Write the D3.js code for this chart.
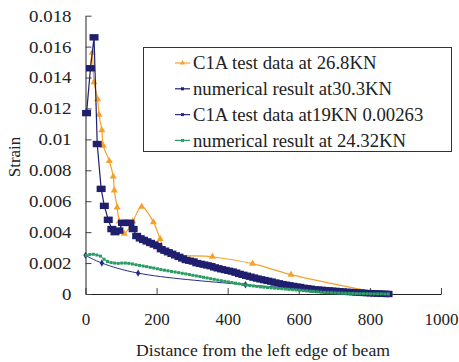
<!DOCTYPE html>
<html>
<head>
<meta charset="utf-8"/>
<script src="https://d3js.org/d3.v7.min.js"></script>
<style>
  body { margin: 0; background: white; }
  text { font-family: "Liberation Serif", "Times New Roman", serif; fill: #222; }
</style>
</head>
<body>
<svg id="chart" width="459" height="362"></svg>
<script>
// series names (legend order)
var seriesNames = ["C1A test data at 26.8KN", "numerical result at30.3KN",
                   "C1A test data at19KN 0.00263", "numerical result at 24.32KN"];

// C1A test data at 26.8KN
var test268X = [13, 19, 24, 34, 38, 46, 50, 67, 78, 81, 89, 95, 109, 133, 158, 191, 210, 228, 357, 470, 578, 840];
var test268Y = [0.0146, 0.0156, 0.0137, 0.0126, 0.0116, 0.0106, 0.0096, 0.0086, 0.0076, 0.0067, 0.0056, 0.0047, 0.0039,
                0.0047, 0.00565, 0.00465, 0.00356, 0.0027, 0.00241, 0.00196, 0.00125, 0];

// numerical result at30.3KN
var num303X = [3, 14, 24, 33, 44, 53, 64, 74, 83, 94, 104, 114, 125, 134, 144, 154, 163, 173, 183, 193,
               203, 213, 223, 233, 243, 253, 263, 273, 283, 293, 303, 313, 323, 333, 343, 353, 363, 373, 383, 393,
               403, 413, 423, 433, 443, 453, 463, 473, 483, 493, 503, 513, 523, 533, 543, 553, 563, 573, 583, 593,
               603, 613, 623, 633, 643, 653, 663, 673, 683, 693, 703, 713, 723, 733, 743, 753, 763, 773, 783, 793,
               803, 813, 823, 833, 843, 851];
var num303Y = [0.0117, 0.0146, 0.0166, 0.0097, 0.0068, 0.0057, 0.0048, 0.0042, 0.0040, 0.0041, 0.0046, 0.0046, 0.0046, 0.0042,
               0.00375, 0.0036, 0.0035, 0.0034, 0.0033, 0.0032, 0.0031, 0.0029, 0.0028, 0.0027, 0.0026, 0.0025, 0.0024,
               0.0023, 0.0022, 0.00215, 0.0021, 0.0020, 0.00195, 0.0019, 0.00185, 0.0018, 0.00172, 0.00166, 0.0016,
               0.00155, 0.0015, 0.00145, 0.00138, 0.0013, 0.00124, 0.00118, 0.00112, 0.00106, 0.001, 0.00095, 0.0009,
               0.00085, 0.0008, 0.00074, 0.00069, 0.00064, 0.0006, 0.00056, 0.00052, 0.00048, 0.00045, 0.0004, 0.00037,
               0.00034, 0.0003, 0.00028, 0.00027, 0.00025, 0.00023, 0.00021, 0.0002, 0.00018, 0.00016, 0.00014, 0.00013,
               0.00012, 0.0001, 0.00009, 0.00007, 0.00006, 0.00005, 0.00004, 0.00003, 0.00002, 0.00001, 0];

// C1A test data at19KN
var test19X = [0, 46, 148, 450, 850];
var test19Y = [0.0025, 0.0020, 0.00135, 0.0006, 0];

// numerical result at 24.32KN
var num2432X = [2, 12, 22, 32, 42, 52, 62, 72, 82, 92, 102, 112, 122, 132, 142, 152, 162, 172, 182, 192,
                202, 212, 222, 232, 242, 252, 262, 272, 282, 292, 302, 312, 322, 332, 342, 352, 362, 372, 382, 392,
                402, 412, 422, 432, 442, 452, 462, 472, 482, 492, 502, 512, 522, 532, 542, 552, 562, 572, 582, 592,
                602, 612, 622, 632, 642, 652, 662, 672, 682, 692, 702, 712, 722, 732, 742, 752, 762, 772, 782, 792,
                802, 812, 822, 832, 842, 852];
var num2432Y = [0.0025, 0.00255, 0.00257, 0.00252, 0.00245, 0.00225, 0.0021, 0.00203, 0.002, 0.00198, 0.002, 0.002,
                0.00198, 0.00194, 0.00189, 0.00185, 0.00181, 0.00177, 0.00172, 0.00168, 0.00163, 0.00158, 0.00154,
                0.0015, 0.00146, 0.00142, 0.00138, 0.00134, 0.0013, 0.00126, 0.00121, 0.00117, 0.00113, 0.00108,
                0.00104, 0.00099, 0.00095, 0.0009, 0.00086, 0.00082, 0.00078, 0.00074, 0.0007, 0.00066, 0.00062,
                0.00058, 0.00055, 0.00052, 0.00049, 0.00046, 0.00044, 0.00042, 0.0004, 0.00038, 0.00036, 0.00034,
                0.00032, 0.0003, 0.00028, 0.00026, 0.00024, 0.00022, 0.0002, 0.00018, 0.00016, 0.00014, 0.00012,
                0.0001, 0.00009, 0.00008, 0.00007, 0.00006, 0.00005, 0.00004, 0.00004, 0.00003, 0.00003, 0.00002,
                0.00002, 0.00002, 0.00001, 0.00001, 0.00001, 0.00001, 0, 0];

var xTicks = [0, 200, 400, 600, 800, 1000];
var yTicks = [0, 0.002, 0.004, 0.006, 0.008, 0.01, 0.012, 0.014, 0.016, 0.018];

var orange = "#f7a12c", navy = "#1f1f6e", navyThin = "#2b2b85", green = "#2a9c64";
var serif = '"Liberation Serif", "Times New Roman", serif';

var svg = d3.select("#chart");
var x = d3.scaleLinear([0, 1000], [85.5, 441]);
var y = d3.scaleLinear([0, 0.018], [294, 15.7]);

function pts(xs, ys) { return xs.map((v, i) => [v, ys[i]]); }

// axes
var gx = svg.append("g").attr("transform", "translate(0,294)")
    .call(d3.axisBottom(x).tickValues(xTicks).tickSizeInner(-6).tickSizeOuter(0).tickPadding(19)
          .tickFormat(d3.format("d")));
gx.selectAll(".tick text").style("font-size", "17px");
var gy = svg.append("g").attr("transform", "translate(85.5,0)")
    .call(d3.axisLeft(y).tickValues(yTicks).tickSizeInner(-6).tickSizeOuter(0).tickPadding(14)
          .tickFormat(d => d === 0 ? "0" : String(+d.toFixed(3))));
gy.selectAll(".tick text").style("font-size", "17px")
   .attr("transform", "scale(1.11,1)")
   .attr("x", function() { var v = +d3.select(this).attr("x") || 0; return v / 1.11; });
svg.selectAll(".domain").attr("stroke", "#222");
svg.selectAll(".tick line").attr("stroke", "#444");
svg.selectAll(".tick text").style("font-family", serif).attr("fill", "#222");

svg.append("text").attr("transform", "translate(263,356) scale(1.04,1)").attr("text-anchor", "middle")
   .style("font-size", "17px").style("font-family", serif).text("Distance from the left edge of beam");
svg.append("text").attr("transform", "translate(20,157) rotate(-90)").attr("text-anchor", "middle")
   .style("font-size", "17px").style("font-family", serif).text("Strain");

var line = d3.line().x(d => x(d[0])).y(d => y(d[1]));
var smooth = d3.line().x(d => x(d[0])).y(d => y(d[1])).curve(d3.curveCatmullRom.alpha(0.5));

var tri = d3.symbol().type(d3.symbolTriangle).size(22);
var diamond = d3.symbol().type(d3.symbolDiamond).size(16);

// orange test data
var oData = pts(test268X, test268Y);
svg.append("path").attr("d", smooth(oData)).attr("fill", "none").attr("stroke", orange).attr("stroke-width", 1.2);
svg.selectAll(".tri").data(oData.slice(0, -1)).enter().append("path")
   .attr("d", tri).attr("transform", d => `translate(${x(d[0])},${y(d[1])})`).attr("fill", orange);

// navy numerical
var nData = pts(num303X, num303Y);
svg.append("path").attr("d", line(nData)).attr("fill", "none").attr("stroke", navy).attr("stroke-width", 1.2);
svg.selectAll(".sq").data(nData).enter().append("rect")
   .attr("x", d => x(d[0]) - 4.5).attr("y", d => y(d[1]) - 3.2).attr("width", 9).attr("height", 6.4)
   .attr("fill", navy);

// thin navy test data
var tData = pts(test19X, test19Y);
svg.append("path").attr("d", smooth(tData)).attr("fill", "none").attr("stroke", navyThin).attr("stroke-width", 1);
svg.selectAll(".dia").data(tData).enter().append("path")
   .attr("d", diamond).attr("transform", d => `translate(${x(d[0])},${y(d[1])})`).attr("fill", navyThin);

// green numerical
var gData = pts(num2432X, num2432Y);
svg.append("path").attr("d", line(gData)).attr("fill", "none").attr("stroke", green).attr("stroke-width", 1);
svg.selectAll(".gsq").data(gData).enter().append("rect")
   .attr("x", d => x(d[0]) - 1.5).attr("y", d => y(d[1]) - 1.5).attr("width", 3).attr("height", 3)
   .attr("fill", green);

// legend
var lg = svg.append("g");
lg.append("rect").attr("x", 143.5).attr("y", 47.5).attr("width", 308).attr("height", 104)
  .attr("fill", "white").attr("stroke", "#333");
var lgColors = [orange, navy, navyThin, green];
seriesNames.forEach(function(name, i) {
  var cy = 63 + i * 25.8;
  lg.append("line").attr("x1", 175).attr("x2", 190).attr("y1", cy).attr("y2", cy)
    .attr("stroke", lgColors[i]).attr("stroke-width", 1.2);
  if (i === 0) lg.append("path").attr("d", d3.symbol().type(d3.symbolTriangle).size(12)())
    .attr("transform", `translate(182.5,${cy})`).attr("fill", orange);
  else lg.append("rect").attr("x", 181).attr("y", cy - 1.5).attr("width", 3).attr("height", 3).attr("fill", lgColors[i]);
  lg.append("text").attr("transform", `translate(193,${cy}) scale(1.04,1)`).attr("dy", "0.35em")
    .style("font-size", "18px").style("font-family", serif).text(name);
});
</script>
</body>
</html>
